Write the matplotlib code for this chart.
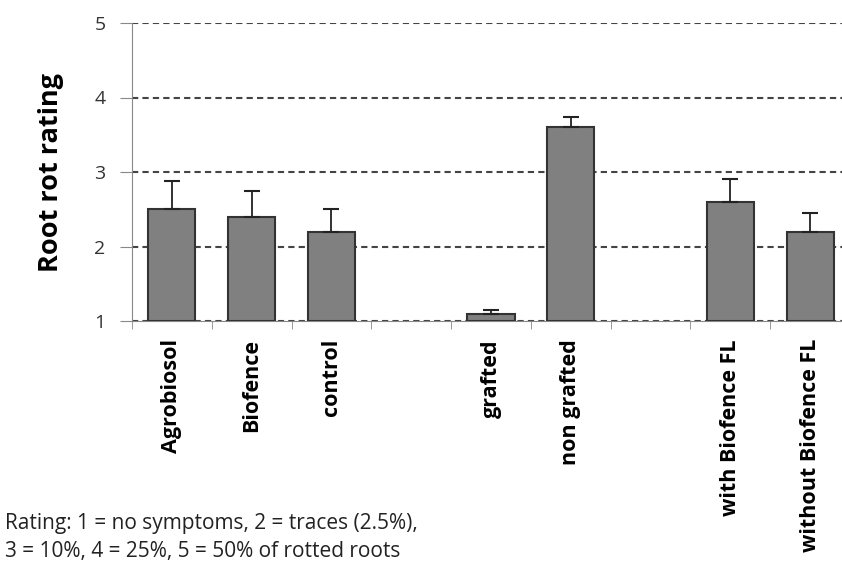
import matplotlib.pyplot as plt
import numpy as np

# root rot rating per treatment, empty slots separate the three trials
categories = ['Agrobiosol', 'Biofence', 'control', '', 'grafted', 'non grafted', '',
              'with Biofence FL', 'without Biofence FL']
rating = [2.5, 2.4, 2.2, np.nan, 1.1, 3.6, np.nan, 2.6, 2.2]
err = [0.38, 0.34, 0.30, np.nan, 0.05, 0.14, np.nan, 0.30, 0.25]
y_ticks = [1, 2, 3, 4, 5]

plt.rcParams['font.family'] = ['Open Sans', 'DejaVu Sans']

fig = plt.figure(figsize=(8.42, 5.64), dpi=100)
# axes runs a little past the right edge of the figure
ax = fig.add_axes([132 / 842, 1 - 321 / 564, 718 / 842, 298 / 564])

x = np.arange(len(categories))
ax.bar(x, np.array(rating) - 1, bottom=1, width=0.59, color='#808080',
       edgecolor='#333333', linewidth=1.5, zorder=3)
ax.errorbar(x, rating, yerr=[np.zeros(len(err)), err], fmt='none',
            ecolor='#222222', elinewidth=1.3, capsize=6, capthick=1.5, zorder=4)

ax.set_xlim(-0.5, len(categories) - 0.5)
ax.set_ylim(1, 5)
ax.set_yticks(y_ticks)
ax.set_yticklabels([str(v) for v in y_ticks], fontsize=14, color='#333333')
ax.yaxis.grid(True, linestyle=(0, (3, 2)), color='#444444', linewidth=1.5)
ax.set_axisbelow(True)

ax.set_xticks(x)
ax.set_xticklabels(categories, rotation=90, fontsize=15.5, fontweight='bold',
                   va='top', ha='center')
ax.set_xticks(np.arange(len(categories) + 1) - 0.5, minor=True)
ax.tick_params(axis='x', which='major', length=0, pad=13)
ax.tick_params(axis='x', which='minor', length=6, color='#888888', direction='out')
ax.tick_params(axis='y', length=9, color='#888888', pad=10)

for side in ['top', 'right']:
    ax.spines[side].set_visible(False)
ax.spines['left'].set_color('#888888')
ax.spines['bottom'].set_color('#888888')

ax.set_ylabel('Root rot rating', fontsize=19.5, fontweight='bold', labelpad=22)

fig.text(0.006, 1 - 523 / 564, 'Rating: 1 = no symptoms, 2 = traces (2.5%),',
         fontsize=15, color='#222222', va='center')
fig.text(0.006, 1 - 551 / 564, '3 = 10%, 4 = 25%, 5 = 50% of rotted roots',
         fontsize=15, color='#222222', va='center')

fig.savefig('out.png', dpi=100)
